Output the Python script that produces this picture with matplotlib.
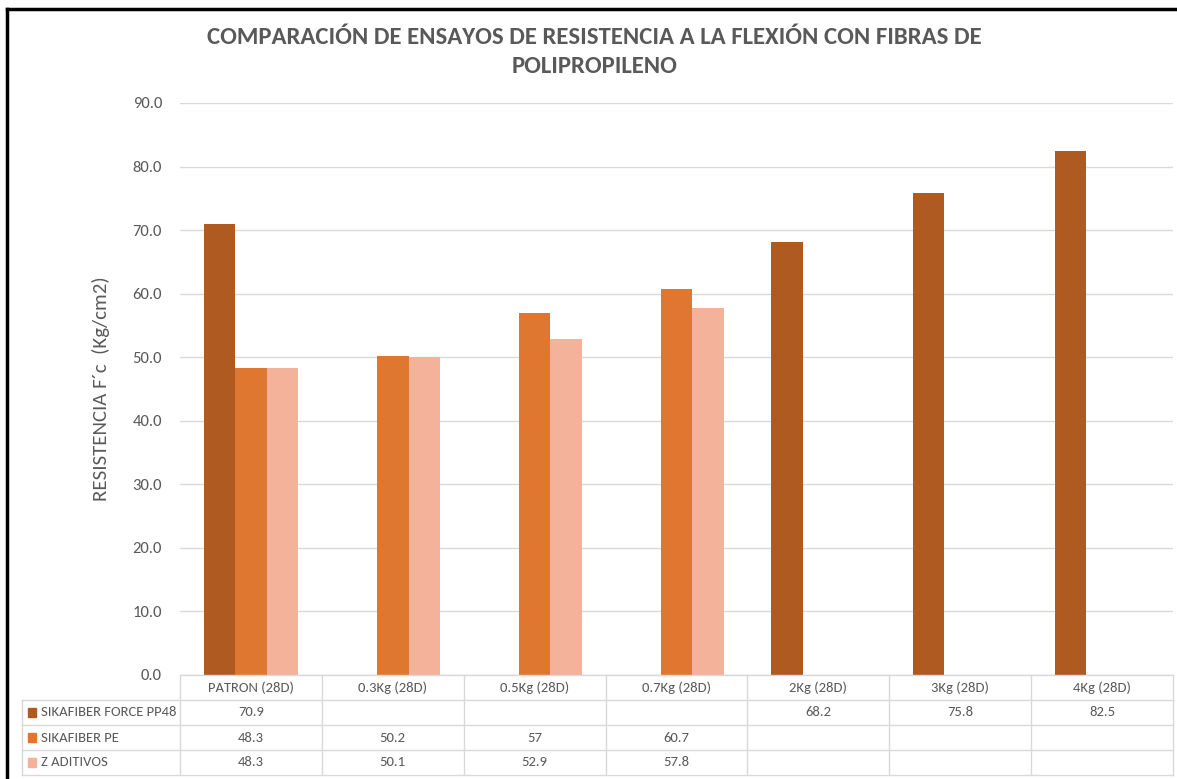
import matplotlib
matplotlib.use("Agg")
import matplotlib.pyplot as plt
import numpy as np
from matplotlib.lines import Line2D
from matplotlib.patches import Rectangle

plt.rcParams['font.family'] = ['Carlito', 'Lato', 'DejaVu Sans']

categories = ["PATRON (28D)", "0.3Kg (28D)", "0.5Kg (28D)", "0.7Kg (28D)",
              "2Kg (28D)", "3Kg (28D)", "4Kg (28D)"]
series_names = ["SIKAFIBER FORCE PP48", "SIKAFIBER PE", "Z ADITIVOS"]
force_pp48 = [70.9, None, None, None, 68.2, 75.8, 82.5]
sikafiber_pe = [48.3, 50.2, 57, 60.7, None, None, None]
z_aditivos = [48.3, 50.1, 52.9, 57.8, None, None, None]
series_values = [force_pp48, sikafiber_pe, z_aditivos]
colors = ["#AE5A21", "#E07730", "#F4B29B"]

title = "COMPARACIÓN DE ENSAYOS DE RESISTENCIA A LA FLEXIÓN CON FIBRAS DE\nPOLIPROPILENO"
ylabel = "RESISTENCIA F´c  (Kg/cm2)"
yticks = [0, 10, 20, 30, 40, 50, 60, 70, 80, 90]

W, H = 1177, 779
fig = plt.figure(figsize=(W / 100, H / 100), dpi=100)
fig.patch.set_facecolor("white")

def fx(px):
    return px / W

def fy(py):
    return 1 - py / H

gray = "#595959"
ax = fig.add_axes([fx(180), fy(675), fx(1173) - fx(180), fy(103) - fy(675)])
n = len(categories)
x = np.arange(n)
bw = 0.222
for i, (vals, col) in enumerate(zip(series_values, colors)):
    v = np.array([np.nan if a is None else a for a in vals], dtype=float)
    ax.bar(x + (i - 1) * bw, v, width=bw, color=col, zorder=3)
ax.set_xlim(-0.5, n - 0.5)
ax.set_ylim(0, 90)
ax.set_yticks(yticks)
ax.set_yticklabels([f"{t:.1f}" for t in yticks], color=gray, fontsize=12)
ax.tick_params(axis='y', length=0, pad=13)
ax.set_xticks([])
ax.grid(axis='y', color="#D9D9D9", linewidth=1, zorder=0)
for s in ax.spines.values():
    s.set_visible(False)
ax.set_ylabel(ylabel, color=gray, fontsize=15, labelpad=16)

fig.text(0.505, fy(52), title, ha='center', va='center', fontsize=17.8,
         fontweight='bold', color=gray, linespacing=1.5)

# data table
tax = fig.add_axes([0, 0, 1, 1], facecolor='none')
tax.set_xlim(0, W)
tax.set_ylim(H, 0)
tax.axis('off')
line_c = "#D9D9D9"
row_y = [675, 700, 725, 750, 775]
x0, xl, xr = 22, 180, 1173
cw = (xr - xl) / n
tax.plot([xl, xr], [row_y[0], row_y[0]], color=line_c, lw=1)
for yy in row_y[1:]:
    tax.plot([x0, xr], [yy, yy], color=line_c, lw=1)
tax.plot([x0, x0], [row_y[1], row_y[-1]], color=line_c, lw=1)
for j in range(n + 1):
    tax.plot([xl + j * cw] * 2, [row_y[0], row_y[-1]], color=line_c, lw=1)
for j, c in enumerate(categories):
    tax.text(xl + (j + 0.5) * cw, (row_y[0] + row_y[1]) / 2, c, ha='center',
             va='center', fontsize=10.5, color=gray)
for i, (name, vals, col) in enumerate(zip(series_names, series_values, colors)):
    yc = (row_y[i + 1] + row_y[i + 2]) / 2
    tax.add_patch(Rectangle((28, yc - 4.5), 8, 9, color=col))
    tax.text(41, yc, name, ha='left', va='center', fontsize=10.5, color=gray)
    for j, v in enumerate(vals):
        if v is not None:
            tax.text(xl + (j + 0.5) * cw, yc, f"{v:g}", ha='center',
                     va='center', fontsize=10.5, color=gray)

# black frame
fig.add_artist(Line2D([fx(7), 1], [fy(9), fy(9)], color='black', lw=2.5))
fig.add_artist(Line2D([fx(7), fx(7)], [fy(9), 0], color='black', lw=2.5))

fig.savefig("out.png", dpi=100)
